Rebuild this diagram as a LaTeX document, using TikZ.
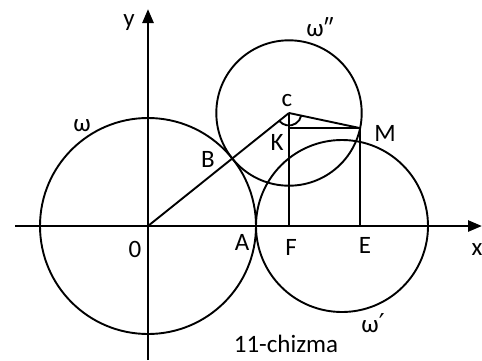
\documentclass[tikz,border=0pt]{standalone}
\usepackage{fontspec}
\setmainfont{Carlito}
\newfontfamily\primefont{DejaVu Sans}
\usetikzlibrary{arrows.meta, calc}

\begin{document}
\begin{tikzpicture}[x=1pt, y=-1pt, line width=1.9pt,
    lbl/.style={inner sep=0pt, font=\fontsize{25}{28}\selectfont},
    axis/.style={line width=2.6pt, -{Triangle[length=14pt, width=11pt]}}]
  \useasboundingbox (0,0) rectangle (482,360);
  % points
  \coordinate (O) at (148,226);
  \coordinate (P) at (342,226);
  \coordinate (C) at (289,113);
  \coordinate (B) at ($(O)!0.5977!(C)$);
  \coordinate (M) at ($(C)+(12:73)$);
  \coordinate (K) at (C |- M);
  \coordinate (F) at (C |- O);
  \coordinate (E) at (M |- O);
  \coordinate (xl) at (15,226);
  \coordinate (xr) at (482,226);
  \coordinate (yb) at (148,360);
  \coordinate (yt) at (148,9);
  % axes
  \draw[axis] (xl) -- (xr);
  \draw[axis] (yb) -- (yt);
  % circles
  \draw (O) circle[radius=108];
  \draw (P) circle[radius=86];
  \draw (C) circle[radius=72.7];
  % segments
  \draw (O) -- (C);
  \draw (C) -- (M);
  \draw (C) -- (F);
  \draw (K) -- (M);
  \draw (M) -- (E);
  \draw ($(C)+(12:12.5)$) arc[start angle=12, end angle=141, radius=12.5];
  % labels
  \node[lbl] (ly) at (129,23) {y};
  \node[lbl] (lx) at (477,250) {x};
  \node[lbl] (lw) at (82,126) {ω};
  \node[lbl] (lw2) at (320,27) {ω″};
  \node[lbl] (lw1) at (373,323) {ω{\primefont\fontsize{26}{28}\selectfont ′}};
  \node[lbl] (lc) at (287,101) {c};
  \node[lbl] (lK) at (277,142) {K};
  \node[lbl] (lM) at (385,133) {M};
  \node[lbl] (lB) at (208,159) {B};
  \node[lbl] (lO) at (135,249) {0};
  \node[lbl] (lA) at (242,242) {A};
  \node[lbl] (lF) at (291,247) {F};
  \node[lbl] (lE) at (365,245) {E};
  \node[lbl] (cap) at (286,344) {11-chizma};
\end{tikzpicture}
\end{document}
